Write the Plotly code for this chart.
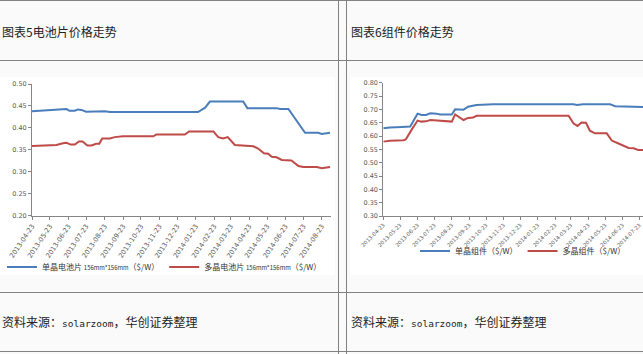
import plotly.graph_objects as go

# ---------------- data ----------------
TITLE_LEFT = "图表5电池片价格走势"
TITLE_RIGHT = "图表6组件价格走势"
SOURCE_TEXT = "资料来源：<span style='font-family:DejaVu Sans Mono;font-size:9.5px'>solarzoom</span>，华创证券整理"

TICK_DATES = ["2013-04-23", "2013-05-23", "2013-06-23", "2013-07-23", "2013-08-23",
              "2013-09-23", "2013-10-23", "2013-11-23", "2013-12-23", "2014-01-23",
              "2014-02-23", "2014-03-23", "2014-04-23", "2014-05-23", "2014-06-23",
              "2014-07-23", "2014-08-23"]

# Figure 5: cell prices ($/W)
CELL_MONO_NAME = "单晶电池片 <span style='font-size:6px'>156mm*156mm</span>（$/W）"
CELL_POLY_NAME = "多晶电池片 <span style='font-size:6px'>156mm*156mm</span>（$/W）"
CELL_MONO_DATES = ["2013-04-23", "2013-05-23", "2013-06-14", "2013-06-20", "2013-06-25",
                   "2013-07-04", "2013-07-09", "2013-07-15", "2013-07-23", "2013-08-01",
                   "2013-08-09", "2013-08-23", "2013-09-01", "2014-01-27", "2014-02-08",
                   "2014-02-16", "2014-04-13", "2014-04-20", "2014-06-08", "2014-06-14",
                   "2014-06-28", "2014-07-26", "2014-08-17", "2014-08-23", "2014-09-06"]
CELL_MONO = [0.438, 0.440, 0.443, 0.443, 0.439,
             0.439, 0.442, 0.441, 0.437, 0.437,
             0.438, 0.438, 0.436, 0.436, 0.446,
             0.460, 0.460, 0.445, 0.445, 0.443,
             0.443, 0.389, 0.389, 0.386, 0.389]
CELL_POLY_DATES = ["2013-04-23", "2013-05-23", "2013-06-03", "2013-06-14", "2013-06-20",
                   "2013-06-27", "2013-07-04", "2013-07-11", "2013-07-17", "2013-07-25",
                   "2013-08-01", "2013-08-09", "2013-08-14", "2013-08-19", "2013-09-01",
                   "2013-09-09", "2013-09-23", "2013-11-13", "2013-11-18", "2014-01-05",
                   "2014-01-12", "2014-02-22", "2014-03-02", "2014-03-10", "2014-03-18",
                   "2014-03-30", "2014-04-13", "2014-04-30", "2014-05-08", "2014-05-18",
                   "2014-05-25", "2014-05-31", "2014-06-08", "2014-06-17", "2014-07-03",
                   "2014-07-15", "2014-07-23", "2014-08-15", "2014-08-23", "2014-09-06"]
CELL_POLY = [0.359, 0.361, 0.361, 0.365, 0.366,
             0.362, 0.362, 0.369, 0.369, 0.360,
             0.360, 0.364, 0.364, 0.376, 0.376,
             0.379, 0.381, 0.381, 0.385, 0.385,
             0.392, 0.392, 0.379, 0.376, 0.379,
             0.361, 0.360, 0.358, 0.353, 0.342,
             0.341, 0.334, 0.333, 0.327, 0.326,
             0.313, 0.311, 0.311, 0.308, 0.311]

# Figure 6: module prices ($/W)
MOD_MONO_NAME = "单晶组件（$/W）"
MOD_POLY_NAME = "多晶组件（$/W）"
MOD_MONO_DATES = ["2013-04-23", "2013-05-05", "2013-05-26", "2013-06-10", "2013-06-23",
                  "2013-06-30", "2013-07-08", "2013-07-16", "2013-07-27", "2013-08-02",
                  "2013-08-23", "2013-08-29", "2013-09-13", "2013-09-21", "2013-10-06",
                  "2013-10-24", "2013-11-05", "2014-03-28", "2014-04-03", "2014-04-14",
                  "2014-06-01", "2014-06-10", "2014-07-07", "2014-07-18", "2014-08-05"]
MOD_MONO = [0.629, 0.632, 0.634, 0.636, 0.684,
            0.679, 0.679, 0.685, 0.684, 0.681,
            0.681, 0.700, 0.699, 0.710, 0.716,
            0.717, 0.719, 0.719, 0.716, 0.719,
            0.719, 0.712, 0.711, 0.709, 0.708]
MOD_POLY_DATES = ["2013-04-23", "2013-05-05", "2013-05-29", "2013-06-02", "2013-06-12",
                  "2013-06-23", "2013-06-30", "2013-07-08", "2013-07-16", "2013-08-02",
                  "2013-08-14", "2013-08-23", "2013-08-29", "2013-09-13", "2013-09-21",
                  "2013-09-30", "2013-10-06", "2014-03-19", "2014-03-28", "2014-04-04",
                  "2014-04-11", "2014-04-19", "2014-04-26", "2014-05-05", "2014-05-26",
                  "2014-06-04", "2014-06-16", "2014-06-25", "2014-07-04", "2014-07-13",
                  "2014-07-21", "2014-08-05"]
MOD_POLY = [0.579, 0.582, 0.584, 0.587, 0.622,
            0.658, 0.654, 0.655, 0.660, 0.657,
            0.654, 0.654, 0.681, 0.660, 0.668,
            0.669, 0.676, 0.676, 0.647, 0.638,
            0.651, 0.650, 0.620, 0.610, 0.610,
            0.583, 0.572, 0.563, 0.555, 0.554,
            0.548, 0.548]

# ---------------- layout helpers ----------------
W, H = 643, 354
def px(x):
    return x / W
def py(y):
    return 1 - y / H

BLUE = "#4a7ebb"
RED = "#be4b48"
AXIS = "#868686"
TICKC = "#595959"
CJK = "Noto Sans CJK SC"

fig = go.Figure()
fig.add_trace(go.Scatter(x=CELL_MONO_DATES, y=CELL_MONO, mode="lines", name=CELL_MONO_NAME,
                         line=dict(color=BLUE, width=2), xaxis="x", yaxis="y", legend="legend"))
fig.add_trace(go.Scatter(x=CELL_POLY_DATES, y=CELL_POLY, mode="lines", name=CELL_POLY_NAME,
                         line=dict(color=RED, width=2), xaxis="x", yaxis="y", legend="legend"))
fig.add_trace(go.Scatter(x=MOD_MONO_DATES, y=MOD_MONO, mode="lines", name=MOD_MONO_NAME,
                         line=dict(color=BLUE, width=2), xaxis="x2", yaxis="y2", legend="legend2"))
fig.add_trace(go.Scatter(x=MOD_POLY_DATES, y=MOD_POLY, mode="lines", name=MOD_POLY_NAME,
                         line=dict(color=RED, width=2), xaxis="x2", yaxis="y2", legend="legend2"))

xcommon = dict(type="date", tickvals=TICK_DATES, ticktext=TICK_DATES,
               showline=True, linecolor=AXIS, linewidth=1, ticks="outside", ticklen=3,
               tickcolor=AXIS, showgrid=False, zeroline=False, fixedrange=True, automargin=False)
ycommon = dict(dtick=0.05, tickformat=".2f",
               tickfont=dict(family="DejaVu Sans", size=6.5, color=TICKC),
               showline=True, linecolor=AXIS, linewidth=1, ticks="outside", ticklen=3,
               tickcolor=AXIS, showgrid=False, zeroline=False, fixedrange=True, automargin=False)

shapes = [
    dict(type="rect", xref="paper", yref="paper", x0=px(0), x1=px(335), y0=py(275), y1=py(77),
         fillcolor="white", line=dict(width=0), layer="below"),
    dict(type="rect", xref="paper", yref="paper", x0=px(350), x1=px(643), y0=py(275), y1=py(77),
         fillcolor="white", line=dict(width=0), layer="below"),
]
for yy in [0.5, 60.5, 292.5, 351.5]:
    shapes.append(dict(type="line", xref="paper", yref="paper", x0=0, x1=1, y0=py(yy), y1=py(yy),
                       line=dict(color="#828282", width=1)))
for xx in [338.5, 346.5]:
    shapes.append(dict(type="line", xref="paper", yref="paper", x0=px(xx), x1=px(xx), y0=0, y1=1,
                       line=dict(color="#828282", width=1)))

annotations = [
    dict(text=TITLE_LEFT, x=px(0), y=py(31), xref="paper", yref="paper", xanchor="left",
         yanchor="middle", showarrow=False, font=dict(family=CJK, size=12, color="#222222")),
    dict(text=TITLE_RIGHT, x=px(349), y=py(31), xref="paper", yref="paper", xanchor="left",
         yanchor="middle", showarrow=False, font=dict(family=CJK, size=12, color="#222222")),
    dict(text=SOURCE_TEXT, x=px(0), y=py(321), xref="paper", yref="paper", xanchor="left",
         yanchor="middle", showarrow=False, font=dict(family=CJK, size=12, color="#222222")),
    dict(text=SOURCE_TEXT, x=px(349), y=py(321), xref="paper", yref="paper", xanchor="left",
         yanchor="middle", showarrow=False, font=dict(family=CJK, size=12, color="#222222")),
]

fig.update_layout(
    width=W, height=H, margin=dict(l=0, r=0, t=0, b=0, autoexpand=False),
    paper_bgcolor="#fafafa", plot_bgcolor="rgba(0,0,0,0)",
    xaxis=dict(xcommon, domain=[px(32), px(331)], anchor="y", tickangle=-56,
               tickfont=dict(family="DejaVu Sans", size=6.7, color=TICKC),
               range=["2013-04-23", "2014-09-07 14:00"]),
    yaxis=dict(ycommon, domain=[py(215.7), py(84)], anchor="x", range=[0.2, 0.5]),
    xaxis2=dict(xcommon, domain=[px(383.3), 1], anchor="y2", tickangle=-45,
                tickfont=dict(family="DejaVu Sans", size=5.3, color=TICKC),
                range=["2013-04-23", "2014-07-29 14:00"]),
    yaxis2=dict(ycommon, domain=[py(216), py(82.7)], anchor="x2", range=[0.3, 0.8]),
    legend=dict(orientation="h", x=px(2), xanchor="left", y=py(267), yanchor="middle",
                font=dict(family=CJK, size=8, color="#333333"), bgcolor="rgba(0,0,0,0)",
                itemwidth=30),
    legend2=dict(orientation="h", x=px(415), xanchor="left", y=py(251), yanchor="middle",
                 font=dict(family=CJK, size=8, color="#333333"), bgcolor="rgba(0,0,0,0)",
                 itemwidth=30),
    shapes=shapes, annotations=annotations, showlegend=True,
)

fig.write_html("out.html", config={"displayModeBar": False})
